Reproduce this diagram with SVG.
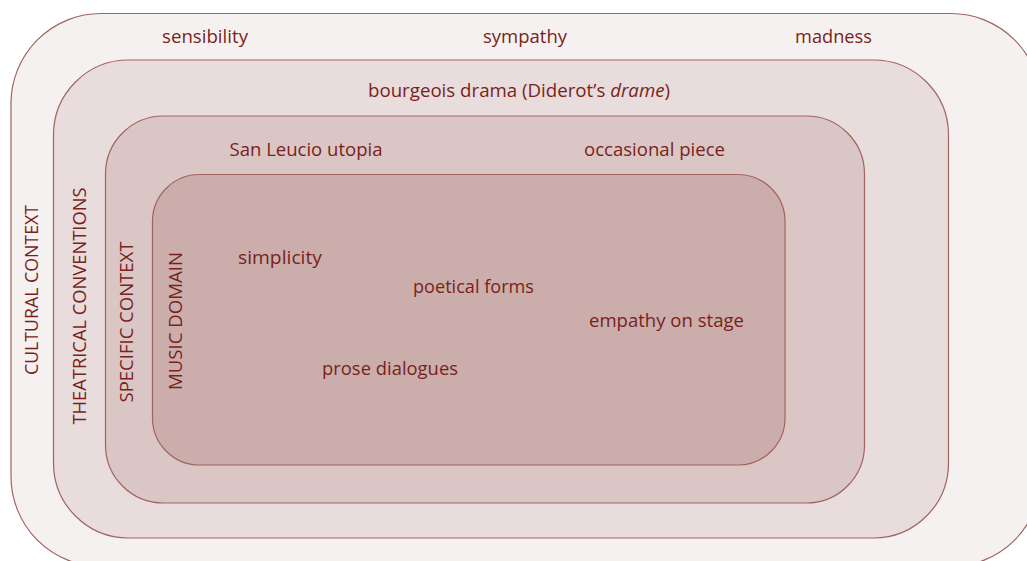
<svg xmlns="http://www.w3.org/2000/svg" width="1027" height="561" viewBox="0 0 1027 561">
<style>
.box{stroke:#a06460;stroke-width:1.2}
.t{font-family:"Open Sans","Liberation Sans",sans-serif;font-size:19px;fill:#7a1f1b;text-anchor:middle}
</style>
<rect width="1027" height="561" fill="#ffffff"/>
<g id="cultural-context">
<rect class="box" x="11" y="13.5" width="1030" height="553" rx="90" fill="#f6f1f1"/>
<text class="t" x="205" y="43" textLength="86" lengthAdjust="spacingAndGlyphs">sensibility</text>
<text class="t" x="525" y="43" textLength="84" lengthAdjust="spacingAndGlyphs">sympathy</text>
<text class="t" x="833.5" y="43" textLength="77" lengthAdjust="spacingAndGlyphs">madness</text>
<text class="t" transform="translate(38,290) rotate(-90)" textLength="170" lengthAdjust="spacingAndGlyphs">CULTURAL CONTEXT</text>
</g>
<g id="theatrical-conventions">
<rect class="box" x="53.5" y="60" width="895" height="478" rx="75" fill="#e8dcdc"/>
<text class="t" x="519" y="97" textLength="302" lengthAdjust="spacingAndGlyphs">bourgeois drama (Diderot’s <tspan font-style="italic">drame</tspan>)</text>
<text class="t" transform="translate(86,306) rotate(-90)" textLength="237" lengthAdjust="spacingAndGlyphs">THEATRICAL CONVENTIONS</text>
</g>
<g id="specific-context">
<rect class="box" x="105.5" y="116" width="759" height="387" rx="58" fill="#dbc6c6"/>
<text class="t" x="306" y="156" textLength="153" lengthAdjust="spacingAndGlyphs">San Leucio utopia</text>
<text class="t" x="654.5" y="156" textLength="141" lengthAdjust="spacingAndGlyphs">occasional piece</text>
<text class="t" transform="translate(133,322) rotate(-90)" textLength="161" lengthAdjust="spacingAndGlyphs">SPECIFIC CONTEXT</text>
</g>
<g id="music-domain">
<rect class="box" x="152.5" y="174.5" width="632.5" height="290.5" rx="47" fill="#cbaeab"/>
<text class="t" transform="translate(182,321) rotate(-90)" textLength="138" lengthAdjust="spacingAndGlyphs">MUSIC DOMAIN</text>
<text class="t" x="280" y="264" textLength="84" lengthAdjust="spacingAndGlyphs">simplicity</text>
<text class="t" x="473.5" y="293" textLength="121" lengthAdjust="spacingAndGlyphs">poetical forms</text>
<text class="t" x="666.5" y="327" textLength="155" lengthAdjust="spacingAndGlyphs">empathy on stage</text>
<text class="t" x="390" y="375" textLength="136" lengthAdjust="spacingAndGlyphs">prose dialogues</text>
</g>
<g id="connectors"/>
</svg>
